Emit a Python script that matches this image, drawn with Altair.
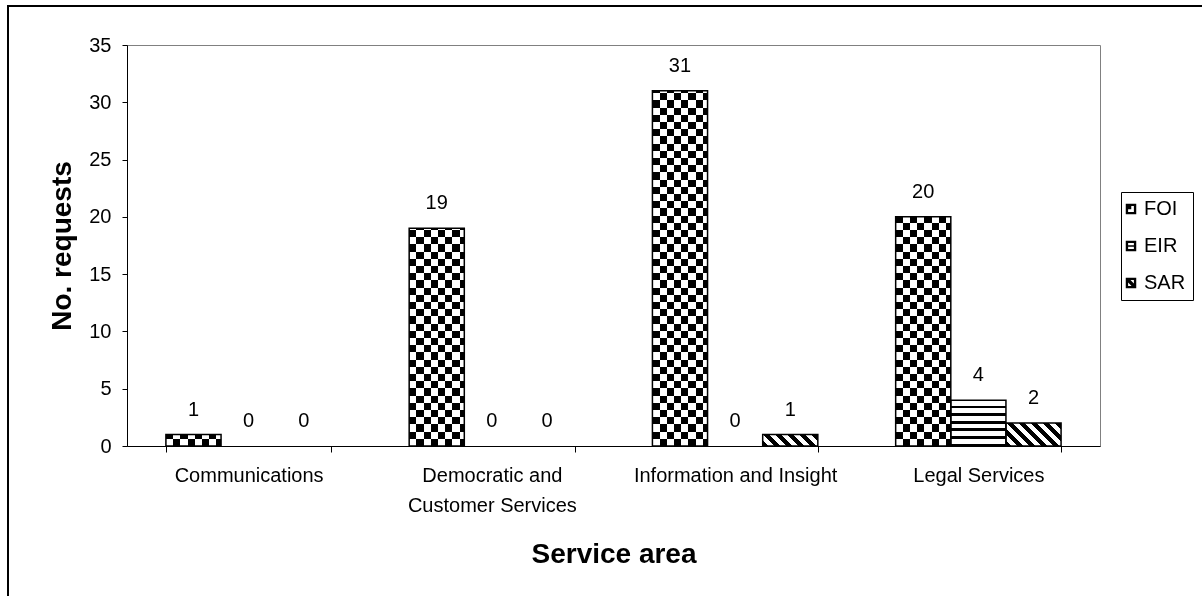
import altair as alt

# Requests received per service area, split by request type
categories = [
    "Communications",
    "Democratic and Customer Services",
    "Information and Insight",
    "Legal Services",
]
series = ["FOI", "EIR", "SAR"]
foi = [1, 19, 31, 20]
eir = [0, 0, 0, 4]
sar = [0, 0, 1, 2]
y_ticks = [0, 5, 10, 15, 20, 25, 30, 35]

FONT = "Liberation Sans"
PLOT_W, PLOT_H = 973, 401
Y_MAX = 35
PAD = {"left": 127, "top": 45, "right": 102, "bottom": 150}
PAD_INNER, PAD_OUTER = 0.32, 0.16
PX_PER_UNIT = PLOT_H / Y_MAX
BAR_W = PLOT_W / 4 * (1 - PAD_INNER) / 3
CELL = 7.2          # checkerboard cell size (px)
HLINE_PERIOD = 7.5  # horizontal stripe period (px)
HLINE_ON = 2.5
DIAG_PERIOD = 12.0  # diagonal stripe period measured horizontally (px)


def stripe_stops(length, period, on, on_color, off_color):
    """Hard-edged gradient stops for repeating stripes along a length in px."""
    stops = []
    pos = 0.0
    while pos < length - 1e-9:
        end_on = min(pos + on, length)
        end_off = min(pos + period, length)
        stops.append({"offset": pos / length, "color": on_color})
        stops.append({"offset": end_on / length, "color": on_color})
        if end_off > end_on:
            stops.append({"offset": end_on / length, "color": off_color})
            stops.append({"offset": end_off / length, "color": off_color})
        pos += period
    return stops


def checker_rows(value):
    h = value * PX_PER_UNIT
    return {"gradient": "linear", "x1": 0, "y1": 1, "x2": 0, "y2": 0,
            "stops": stripe_stops(h, 2 * CELL, CELL, "white", "black")}


def horizontal_lines(value):
    h = value * PX_PER_UNIT
    return {"gradient": "linear", "x1": 0, "y1": 1, "x2": 0, "y2": 0,
            "stops": stripe_stops(h, HLINE_PERIOD, HLINE_ON, "black", "white")}


def diagonal_lines(value):
    # stripes running top-left to bottom-right at 45 degrees in pixel space
    h = value * PX_PER_UNIT
    w = BAR_W
    k = (w + h) / (w * w + h * h)
    return {"gradient": "linear", "x1": 0, "y1": 1, "x2": k * w, "y2": 1 - k * h,
            "stops": stripe_stops(w + h, DIAG_PERIOD, DIAG_PERIOD / 2, "black", "white")}


checker_cols = {"gradient": "linear", "x1": 0, "y1": 0, "x2": 1, "y2": 0,
                "stops": stripe_stops(BAR_W, 2 * CELL, CELL, "black", "white")}

pattern_for = {"FOI": checker_rows, "EIR": horizontal_lines, "SAR": diagonal_lines}

records = []
for name, vals in zip(series, [foi, eir, sar]):
    for cat, v in zip(categories, vals):
        rec = {"category": cat, "series": name, "value": v}
        if v > 0:
            rec["grad"] = pattern_for[name](v)
        records.append(rec)

base = alt.Chart(alt.Data(values=records)).encode(
    x=alt.X(
        "category:N",
        sort=categories,
        scale=alt.Scale(paddingInner=PAD_INNER, paddingOuter=PAD_OUTER, round=False),
        axis=alt.Axis(
            title="Service area",
            labelExpr="datum.label == 'Democratic and Customer Services' ? ['Democratic and', 'Customer Services'] : datum.label",
            labelFont=FONT, labelFontSize=20, labelColor="black", labelAngle=0,
            labelPadding=13, labelLineHeight=30, labelBaseline="top", labelLimit=0,
            tickSize=6, tickBand="extent", tickColor="black", domainColor="black",
            titleFont=FONT, titleFontSize=28, titleFontWeight="bold", titleColor="black",
            titleY=108, titleBaseline="middle",
        ),
    ),
    xOffset=alt.XOffset("series:N", sort=series,
                        scale=alt.Scale(paddingInner=0, paddingOuter=0, round=False)),
    y=alt.Y(
        "value:Q",
        scale=alt.Scale(domain=[0, Y_MAX], nice=False),
        axis=alt.Axis(
            title="No. requests", values=y_ticks, grid=False,
            labelFont=FONT, labelFontSize=20, labelColor="black", labelPadding=11,
            tickSize=5, tickColor="black", domainColor="black",
            titleFont=FONT, titleFontSize=28, titleFontWeight="bold", titleColor="black",
            titleX=-65, titleY=PLOT_H / 2, titleBaseline="middle",
        ),
    ),
)

# checkerboard = vertical stripes XOR horizontal stripes (difference blend)
foi_cols = base.mark_bar(fill=checker_cols).transform_filter(
    "datum.series == 'FOI' && datum.value > 0")
foi_rows = base.mark_bar(blend="difference").encode(
    fill=alt.Fill("grad:N", scale=None)
).transform_filter("datum.series == 'FOI' && datum.value > 0")
other_bars = base.mark_bar().encode(
    fill=alt.Fill("grad:N", scale=None)
).transform_filter("datum.series != 'FOI' && datum.value > 0")
outlines = base.mark_bar(fillOpacity=0, stroke="black", strokeWidth=1.5).transform_filter(
    "datum.value > 0")

labels = base.mark_text(dy=-19, baseline="alphabetic", font=FONT, fontSize=20,
                        color="black").encode(text="value:Q")

legend_paths = [
    "M-1,-1H1V1H-1Z M-0.55,-0.55V0.55H0.55V-0.55Z M-0.55,-0.55H0.05V0.05H-0.55Z",
    "M-1,-1H1V1H-1Z M-0.55,-0.55V0.55H0.55V-0.55Z M-0.55,-0.14H0.55V0.14H-0.55Z",
    "M-1,-1H1V1H-1Z M-0.55,-0.55V0.55H0.55V-0.55Z M-0.55,-0.55L-0.1,-0.55L0.55,0.1L0.55,0.55L0.1,0.55L-0.55,-0.1Z",
]
legend_layer = base.mark_point(filled=True, color="black", size=110).encode(
    shape=alt.Shape(
        "series:N",
        sort=series,
        scale=alt.Scale(domain=series, range=legend_paths),
        legend=alt.Legend(
            title=None, orient="none", legendX=994, legendY=147,
            padding=7, rowPadding=17, strokeColor="black", fillColor="white",
            symbolSize=110, symbolFillColor="black", symbolStrokeColor="black",
            symbolStrokeWidth=0, symbolOpacity=1, symbolOffset=-7,
            labelFont=FONT, labelFontSize=20, labelColor="black", labelOffset=3,
        ),
    )
).transform_filter("datum.value < 0")

frame = alt.Chart(alt.Data(values=[{}])).mark_rect(
    fillOpacity=0, stroke="black", strokeWidth=2
).encode(
    x=alt.value(8 - PAD["left"]),
    x2=alt.value(PLOT_W + PAD["right"] + 30),
    y=alt.value(6 - PAD["top"]),
    y2=alt.value(PLOT_H + PAD["bottom"] + 30),
)

chart = alt.layer(
    frame, foi_cols, foi_rows, other_bars, outlines, labels, legend_layer
).properties(
    width=PLOT_W,
    height=PLOT_H,
    padding=PAD,
    autosize=alt.AutoSizeParams(type="none"),
    background="white",
).configure_view(stroke="#808080", strokeWidth=1)

chart.save("out.html", embed_options={"renderer": "svg", "actions": False})
